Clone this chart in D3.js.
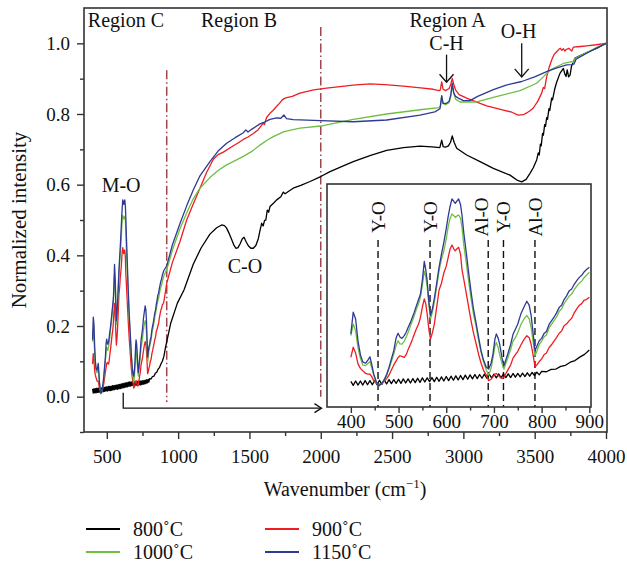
<!DOCTYPE html>
<html>
<head>
<meta charset="utf-8">
<script src="https://cdn.jsdelivr.net/npm/d3@7"></script>
<style>
  body { margin: 0; background: #fff; }
  svg { display: block; }
  text { font-family: "Liberation Serif", "Times New Roman", serif; fill: #111; }
</style>
</head>
<body>
<svg id="chart" width="627" height="566"></svg>
<script>
// ---- FTIR spectra, normalized intensity vs wavenumber (cm^-1) ----
const seriesLabels = ["800˚C", "900˚C", "1000˚C", "1150˚C"];
const seriesColors = ["#000000", "#ee1d23", "#6fbe44", "#2e3a94"];

// 800 °C
const wn800 = [400,405,410,415,420,425,430,435,440,445,450,455,460,465,470,475,480,485,490,495,
  500,505,510,515,520,525,530,535,540,545,550,555,560,565,570,575,580,585,590,595,
  600,605,610,615,620,625,630,635,640,645,650,655,660,665,670,675,680,685,690,695,
  700,705,710,715,720,725,730,735,740,745,750,755,760,765,770,775,780,785,790,795,
  800,810,820,830,840,850,860,870,880,890,900,913,948,994,1041,1106,1160,1223,1270,1305,
  1325,1340,1360,1376,1392,1406,1420,1434,1450,1462,1475,1492,1510,1527,1545,1562,1575,1586,1596,1606,
  1615,1625,1635,1644,1670,1691,1720,1737,1750,1770,1807,1860,1925,2000,2065,2150,2228,2350,2462,2580,
  2696,2780,2835,2848,2858,2875,2895,2910,2922,2935,2953,3023,3117,3210,3327,3380,3409,3440,3467,3490,
  3514,3525,3532,3540,3546,3555,3561,3570,3576,3584,3590,3600,3606,3619,3625,3640,3654,3677,3701,3712,
  3720,3728,3738,3748,3758,3766,3783,3820,3865,3930,4000];
const int800 = [0.022,0.010,0.023,0.011,0.023,0.011,0.024,0.012,0.024,0.012,0.024,0.012,0.025,0.013,0.026,0.014,0.027,0.015,0.027,0.016,
  0.028,0.016,0.029,0.017,0.029,0.017,0.030,0.018,0.031,0.019,0.032,0.020,0.032,0.021,0.033,0.021,0.034,0.022,0.035,0.023,
  0.036,0.024,0.037,0.025,0.038,0.026,0.039,0.027,0.040,0.028,0.041,0.029,0.042,0.030,0.042,0.031,0.043,0.031,0.043,0.032,
  0.043,0.032,0.044,0.032,0.044,0.033,0.044,0.033,0.045,0.034,0.045,0.035,0.046,0.036,0.047,0.037,0.048,0.039,0.049,0.041,
  0.051,0.050,0.057,0.058,0.066,0.069,0.078,0.083,0.093,0.101,0.114,0.142,0.208,0.264,0.302,0.375,0.420,0.460,0.478,0.486,
  0.484,0.477,0.460,0.444,0.428,0.420,0.422,0.432,0.447,0.451,0.440,0.427,0.420,0.420,0.428,0.447,0.472,0.491,0.483,0.499,
  0.500,0.528,0.522,0.538,0.548,0.557,0.566,0.579,0.574,0.580,0.590,0.598,0.609,0.623,0.637,0.652,0.665,0.683,0.697,0.705,
  0.709,0.707,0.705,0.726,0.708,0.706,0.710,0.720,0.738,0.720,0.703,0.684,0.665,0.646,0.627,0.612,0.608,0.615,0.632,0.648,
  0.670,0.690,0.684,0.715,0.710,0.745,0.740,0.770,0.765,0.790,0.785,0.815,0.810,0.845,0.840,0.870,0.890,0.915,0.929,0.912,
  0.906,0.925,0.905,0.910,0.935,0.943,0.958,0.965,0.974,0.985,1.000];

// 900 °C
const wn900 = [400,405,410,415,420,425,431,436,440,444,448,453,459,464,469,475,480,485,490,495,
  499,503,507,512,516,520,525,529,533,537,542,546,550,554,557,560,564,567,571,575,
  580,585,590,595,600,604,608,612,616,619,623,626,630,633,637,642,647,652,657,663,
  668,673,678,684,689,694,698,702,705,709,712,717,721,725,729,735,740,745,750,757,
  763,769,774,778,782,786,790,795,800,805,810,816,821,826,831,837,842,847,852,858,
  863,868,874,879,884,889,894,900,920,960,1013,1060,1106,1153,1200,1247,1280,1317,1387,1420,
  1457,1490,1527,1560,1597,1605,1620,1644,1665,1691,1710,1730,1749,1800,1854,1950,2041,2228,2345,2450,
  2579,2700,2789,2830,2838,2848,2858,2875,2900,2912,2922,2932,2945,2970,3023,3117,3164,3280,3340,3385,
  3420,3444,3470,3490,3520,3549,3560,3570,3584,3600,3619,3635,3654,3670,3680,3690,3701,3712,3720,3740,
  3760,3771,3820,3865,3930,4000];
const int900 = [0.092,0.122,0.105,0.073,0.060,0.053,0.045,0.043,0.043,0.035,0.024,0.018,0.014,0.014,0.020,0.030,0.040,0.055,0.070,0.082,
  0.092,0.097,0.095,0.092,0.100,0.115,0.131,0.145,0.160,0.175,0.190,0.210,0.240,0.264,0.250,0.220,0.170,0.146,0.165,0.190,
  0.240,0.290,0.310,0.340,0.360,0.385,0.410,0.422,0.410,0.405,0.412,0.415,0.395,0.350,0.320,0.280,0.240,0.200,0.165,0.130,
  0.100,0.075,0.055,0.040,0.024,0.028,0.036,0.043,0.045,0.040,0.035,0.030,0.034,0.045,0.055,0.070,0.090,0.100,0.110,0.130,
  0.145,0.156,0.150,0.130,0.100,0.065,0.070,0.080,0.088,0.100,0.105,0.122,0.130,0.140,0.150,0.163,0.170,0.185,0.190,0.200,
  0.207,0.222,0.235,0.245,0.250,0.260,0.262,0.269,0.321,0.380,0.439,0.500,0.545,0.590,0.635,0.672,0.685,0.692,0.710,0.718,
  0.728,0.735,0.745,0.755,0.774,0.770,0.790,0.802,0.810,0.822,0.830,0.840,0.845,0.850,0.859,0.868,0.873,0.882,0.885,0.883,
  0.879,0.874,0.870,0.866,0.868,0.891,0.870,0.866,0.872,0.885,0.901,0.885,0.868,0.855,0.845,0.830,0.823,0.811,0.805,0.797,
  0.798,0.803,0.810,0.817,0.835,0.859,0.875,0.872,0.906,0.930,0.953,0.968,0.976,0.983,0.986,0.980,0.985,0.978,0.982,0.986,
  0.978,0.989,0.991,0.993,0.996,1.000];

// 1000 °C
const wn1000 = [400,405,410,415,420,425,431,436,440,444,448,453,459,464,469,475,480,485,490,495,
  499,503,507,512,516,520,525,529,533,537,542,546,550,554,557,560,564,567,571,575,
  580,585,590,595,600,604,608,612,616,619,623,626,630,633,637,642,647,652,657,663,
  668,673,678,684,689,694,698,702,705,709,712,717,721,725,729,735,740,745,750,757,
  763,769,774,778,782,786,790,795,800,805,810,816,821,826,831,837,842,847,852,858,
  863,868,874,879,884,889,894,900,920,960,1013,1060,1106,1153,1223,1280,1340,1400,1457,1520,
  1574,1620,1667,1742,1854,2000,2228,2462,2696,2830,2840,2848,2856,2875,2900,2912,2922,2932,2945,2976,
  3093,3210,3397,3514,3560,3607,3701,3759,3770,3782,3865,3930,4000];
const int1000 = [0.156,0.190,0.170,0.120,0.090,0.070,0.068,0.075,0.080,0.060,0.040,0.020,0.009,0.014,0.022,0.038,0.058,0.080,0.102,0.128,
  0.141,0.132,0.131,0.140,0.152,0.165,0.185,0.200,0.215,0.232,0.250,0.270,0.305,0.345,0.330,0.300,0.240,0.205,0.225,0.255,
  0.300,0.347,0.380,0.405,0.440,0.475,0.500,0.513,0.508,0.503,0.508,0.510,0.500,0.474,0.420,0.370,0.315,0.265,0.220,0.180,
  0.140,0.107,0.080,0.055,0.040,0.060,0.090,0.125,0.136,0.120,0.100,0.075,0.058,0.075,0.090,0.115,0.140,0.150,0.165,0.190,
  0.205,0.215,0.205,0.180,0.140,0.097,0.110,0.130,0.140,0.152,0.158,0.180,0.190,0.200,0.210,0.228,0.235,0.250,0.260,0.272,
  0.278,0.290,0.302,0.310,0.316,0.326,0.333,0.342,0.359,0.415,0.475,0.520,0.560,0.590,0.620,0.640,0.656,0.668,0.680,0.695,
  0.712,0.725,0.736,0.750,0.760,0.766,0.785,0.800,0.812,0.818,0.822,0.850,0.830,0.826,0.832,0.850,0.883,0.860,0.842,0.834,
  0.834,0.847,0.866,0.887,0.905,0.924,0.943,0.948,0.945,0.957,0.974,0.987,1.000];

// 1150 °C
const wn1150 = [400,405,410,415,420,425,431,436,440,444,448,453,459,464,469,475,480,485,490,495,
  499,503,507,512,516,520,525,529,533,537,542,546,550,554,557,560,564,567,571,575,
  580,585,590,595,600,604,608,612,616,619,623,626,630,633,637,642,647,652,657,663,
  668,673,678,684,689,694,698,702,705,709,712,717,721,725,729,735,740,745,750,757,
  763,769,774,778,782,786,790,795,800,805,810,816,821,826,831,837,842,847,852,858,
  863,868,874,879,884,889,894,900,920,960,1013,1060,1106,1153,1223,1280,1340,1400,1457,1475,
  1490,1520,1574,1600,1644,1691,1720,1742,1760,1807,2000,2228,2462,2696,2800,2836,2848,2858,2880,2900,
  2912,2922,2932,2945,2965,3000,3046,3100,3210,3300,3409,3500,3584,3650,3724,3760,3775,3790,3865,3930,4000];
const int1150 = [0.161,0.225,0.205,0.140,0.100,0.079,0.075,0.085,0.094,0.070,0.043,0.022,0.009,0.015,0.024,0.042,0.063,0.088,0.112,0.150,
  0.163,0.152,0.148,0.156,0.166,0.180,0.195,0.210,0.225,0.242,0.262,0.278,0.320,0.374,0.350,0.317,0.250,0.215,0.235,0.265,
  0.310,0.357,0.395,0.430,0.470,0.505,0.535,0.557,0.550,0.544,0.552,0.557,0.540,0.510,0.455,0.400,0.340,0.285,0.235,0.190,
  0.150,0.112,0.085,0.063,0.058,0.075,0.102,0.145,0.161,0.148,0.131,0.090,0.068,0.085,0.102,0.130,0.160,0.175,0.190,0.222,
  0.240,0.257,0.245,0.215,0.165,0.112,0.125,0.141,0.148,0.162,0.168,0.190,0.200,0.210,0.222,0.239,0.245,0.262,0.272,0.288,
  0.293,0.306,0.318,0.327,0.333,0.343,0.350,0.357,0.370,0.430,0.490,0.540,0.585,0.625,0.665,0.695,0.717,0.733,0.747,0.755,
  0.749,0.758,0.772,0.776,0.785,0.789,0.788,0.797,0.787,0.784,0.781,0.778,0.783,0.797,0.806,0.815,0.852,0.830,0.830,0.836,
  0.855,0.887,0.860,0.850,0.845,0.838,0.838,0.850,0.869,0.882,0.892,0.905,0.920,0.930,0.939,0.940,0.941,0.955,0.972,0.986,1.000];

const wavenumbers = [wn800, wn900, wn1000, wn1150];
const intensities = [int800, int900, int1000, int1150];

// axis ticks
const xMajor = [500, 1000, 1500, 2000, 2500, 3000, 3500, 4000];
const xMinor = [750, 1250, 1750, 2250, 2750, 3250, 3750];
const yMajor = [0.0, 0.2, 0.4, 0.6, 0.8, 1.0];
const yMinor = [-0.1, 0.1, 0.3, 0.5, 0.7, 0.9];
const insetMajor = [400, 500, 600, 700, 800, 900];
const insetMinor = [450, 550, 650, 750, 850];

// band assignments
const regionLabels = [
  { text: "Region C", wn: 634,  v: 1.046 },
  { text: "Region B", wn: 1427, v: 1.046 },
  { text: "Region A", wn: 2889, v: 1.046 }
];
const bandLabels = [
  { text: "C-H", wn: 2882, v: 0.982 },
  { text: "O-H", wn: 3387, v: 1.015 },
  { text: "M-O", wn: 600,  v: 0.579 },
  { text: "C-O", wn: 1469, v: 0.350 }
];
const bandArrows = [
  { wn: 2882, from: 0.968, to: 0.890 },
  { wn: 3409, from: 1.000, to: 0.905 }
];
const regionBounds = [
  { wn: 920,  top: 0.924, bottom: -0.015 },
  { wn: 2000, top: 1.046, bottom: 0.0 }
];
const insetBands = [
  { text: "Y-O",  wn: 457, dx: 7 },
  { text: "Y-O",  wn: 566, dx: 7 },
  { text: "Al-O", wn: 688, dx: 0 },
  { text: "Y-O",  wn: 720, dx: 7 },
  { text: "Al-O", wn: 786, dx: 7 }
];

// ---- layout ----
const svg = d3.select("#chart");
const frame = { left: 84, right: 607, top: 8, bottom: 432 };
const x = d3.scaleLinear().domain([340, 4000]).range([84, 606]);
const y = d3.scaleLinear().domain([-0.1, 1.1]).range([432, 8]);
const inset = { left: 327, right: 591, top: 184, bottom: 407 };
const xi = d3.scaleLinear().domain([350, 903.5]).range([inset.left, inset.right]);
const yi = d3.scaleLinear().domain([-0.0534, 0.601]).range([inset.bottom, inset.top]);

const axisColor = "#333";
const tickFont = 19;

function series(i) {
  return wavenumbers[i].map((w, k) => [w, intensities[i][k]]);
}

// clip regions
const defs = svg.append("defs");
defs.append("clipPath").attr("id", "clipMain").append("rect")
  .attr("x", frame.left).attr("y", frame.top)
  .attr("width", frame.right - frame.left).attr("height", frame.bottom - frame.top);
defs.append("clipPath").attr("id", "clipInset").append("rect")
  .attr("x", inset.left).attr("y", inset.top)
  .attr("width", inset.right - inset.left).attr("height", inset.bottom - inset.top);

// region boundaries (dash-dot)
svg.append("g").selectAll("line").data(regionBounds).join("line")
  .attr("x1", d => x(d.wn)).attr("x2", d => x(d.wn))
  .attr("y1", d => y(d.top)).attr("y2", d => y(d.bottom))
  .attr("stroke", "#a0454c").attr("stroke-width", 1.5)
  .attr("stroke-dasharray", "9,3,1.5,3");

// main spectra
const line = d3.line().x(d => x(d[0])).y(d => y(d[1]));
const mainG = svg.append("g").attr("clip-path", "url(#clipMain)");
[0, 1, 2, 3].forEach(i => {
  mainG.append("path").datum(series(i))
    .attr("d", line).attr("fill", "none")
    .attr("stroke", seriesColors[i]).attr("stroke-width", 1.3)
    .attr("stroke-linejoin", "round");
});

// frame
svg.append("rect")
  .attr("x", frame.left).attr("y", frame.top)
  .attr("width", frame.right - frame.left).attr("height", frame.bottom - frame.top)
  .attr("fill", "none").attr("stroke", axisColor).attr("stroke-width", 1.6);

function styleAxis(g) {
  g.select(".domain").remove();
  g.selectAll(".tick line").attr("stroke", axisColor).attr("stroke-width", 1.4);
  g.selectAll(".tick text").attr("font-size", tickFont)
    .attr("font-family", "Liberation Serif, serif").attr("fill", "#111");
}

// x axis
svg.append("g").attr("transform", `translate(0,${frame.bottom})`)
  .call(d3.axisBottom(x).tickValues(xMajor).tickSize(7).tickPadding(10.5).tickFormat(d3.format("d")))
  .call(styleAxis);
svg.append("g").attr("transform", `translate(0,${frame.bottom})`)
  .call(d3.axisBottom(x).tickValues(xMinor).tickSize(4).tickFormat(""))
  .call(styleAxis);

// y axis
svg.append("g").attr("transform", `translate(${frame.left},0)`)
  .call(d3.axisLeft(y).tickValues(yMajor).tickSize(7).tickPadding(7).tickFormat(d3.format(".1f")))
  .call(styleAxis);
svg.append("g").attr("transform", `translate(${frame.left},0)`)
  .call(d3.axisLeft(y).tickValues(yMinor).tickSize(4).tickFormat(""))
  .call(styleAxis);

// axis titles
const xt = svg.append("text")
  .attr("x", 345).attr("y", 496).attr("text-anchor", "middle").attr("font-size", 20);
xt.append("tspan").text("Wavenumber (cm");
xt.append("tspan").attr("font-size", 13).attr("dy", -8).text("−1");
xt.append("tspan").attr("dy", 8).text(")");

svg.append("text")
  .attr("transform", `translate(26,${(frame.top + frame.bottom) / 2}) rotate(-90)`)
  .attr("text-anchor", "middle").attr("font-size", 21)
  .text("Normalized intensity");

// region and band labels
svg.append("g").selectAll("text").data(regionLabels.concat(bandLabels)).join("text")
  .attr("x", d => x(d.wn)).attr("y", d => y(d.v))
  .attr("text-anchor", "middle").attr("font-size", 20)
  .text(d => d.text);

// downward arrows for C-H and O-H
const arrowG = svg.append("g").attr("stroke", "#111").attr("stroke-width", 1.3).attr("fill", "none");
bandArrows.forEach(a => {
  const ax = x(a.wn), y0 = y(a.from), y1 = y(a.to);
  arrowG.append("line").attr("x1", ax).attr("x2", ax).attr("y1", y0).attr("y2", y1);
  arrowG.append("path").attr("d", `M${ax - 7},${y1 - 8}L${ax},${y1}L${ax + 7},${y1 - 8}`);
});

// bracket arrow leading from region C to the inset
const bx0 = x(615), bx1 = x(2005), by0 = y(0.011), by1 = y(-0.0325);
arrowG.append("path").attr("d", `M${bx0},${by0}V${by1}H${bx1}`);
arrowG.append("path").attr("d", `M${bx1 - 7},${by1 - 4.5}L${bx1},${by1}L${bx1 - 7},${by1 + 4.5}`);

// ---- inset: 400–900 cm^-1 ----
svg.append("rect")
  .attr("x", inset.left).attr("y", inset.top)
  .attr("width", inset.right - inset.left).attr("height", inset.bottom - inset.top)
  .attr("fill", "#fff");

// band positions (dashed) and rotated labels
const bandG = svg.append("g");
bandG.selectAll("line").data(insetBands).join("line")
  .attr("x1", d => xi(d.wn)).attr("x2", d => xi(d.wn))
  .attr("y1", 240).attr("y2", inset.bottom)
  .attr("stroke", "#111").attr("stroke-width", 1.4).attr("stroke-dasharray", "7,4");
bandG.selectAll("text").data(insetBands).join("text")
  .attr("transform", d => `translate(${xi(d.wn) + d.dx},217) rotate(-90)`)
  .attr("text-anchor", "middle").attr("font-size", 19)
  .text(d => d.text);

const lineI = d3.line().x(d => xi(d[0])).y(d => yi(d[1]));
const insetG = svg.append("g").attr("clip-path", "url(#clipInset)");
[0, 1, 2, 3].forEach(i => {
  insetG.append("path").datum(series(i).filter(d => d[0] <= 905))
    .attr("d", lineI).attr("fill", "none")
    .attr("stroke", seriesColors[i]).attr("stroke-width", 1.3)
    .attr("stroke-linejoin", "round");
});

svg.append("rect")
  .attr("x", inset.left).attr("y", inset.top)
  .attr("width", inset.right - inset.left).attr("height", inset.bottom - inset.top)
  .attr("fill", "none").attr("stroke", axisColor).attr("stroke-width", 1.6);

svg.append("g").attr("transform", `translate(0,${inset.bottom})`)
  .call(d3.axisBottom(xi).tickValues(insetMajor).tickSize(6).tickPadding(1.5).tickFormat(d3.format("d")))
  .call(styleAxis);
svg.append("g").attr("transform", `translate(0,${inset.bottom})`)
  .call(d3.axisBottom(xi).tickValues(insetMinor).tickSize(3.5).tickFormat(""))
  .call(styleAxis);

// ---- legend ----
const legendOrder = [0, 1, 2, 3];
const legendCol = [86, 265];
const legendRow = [529, 552];
const lg = svg.append("g");
legendOrder.forEach((si, k) => {
  const lx = legendCol[k % 2], ly = legendRow[Math.floor(k / 2)];
  lg.append("line").attr("x1", lx).attr("x2", lx + 34).attr("y1", ly).attr("y2", ly)
    .attr("stroke", seriesColors[si]).attr("stroke-width", 1.8);
  lg.append("text").attr("x", lx + 47).attr("y", ly + 7).attr("font-size", 20)
    .text(seriesLabels[si]);
});
</script>
</body>
</html>
